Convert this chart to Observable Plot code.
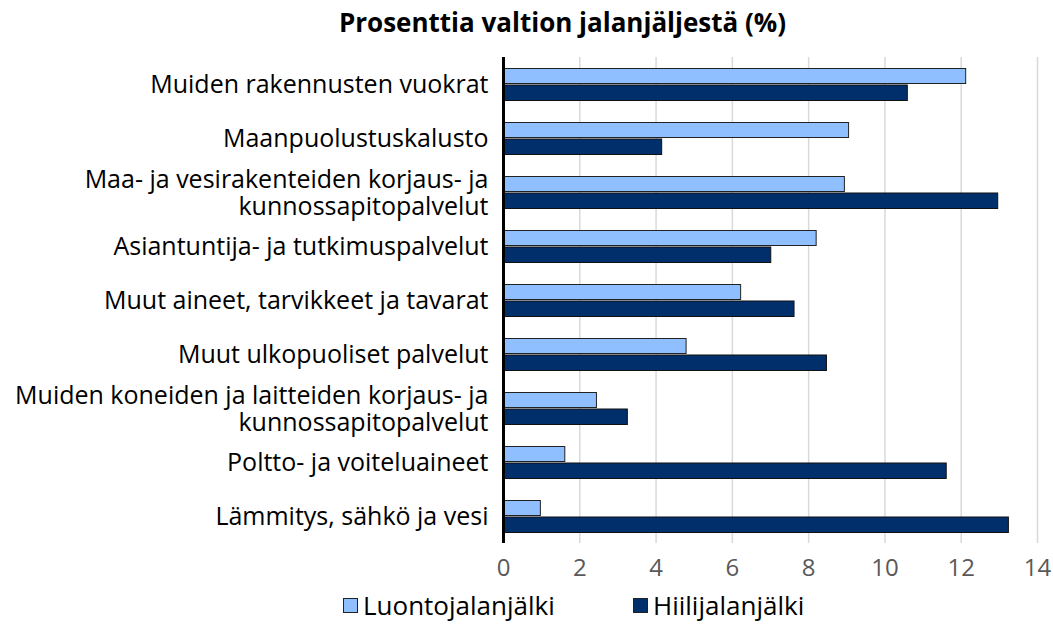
<!DOCTYPE html>
<html>
<head>
<meta charset="utf-8">
<script src="https://cdn.jsdelivr.net/npm/d3@7"></script>
<script src="https://cdn.jsdelivr.net/npm/@observablehq/plot@0.6"></script>
<style>
  html, body { margin: 0; padding: 0; background: #fff; }
  body { width: 1053px; height: 625px; overflow: hidden; font-family: "Open Sans", sans-serif; }
  #title { height: 45px; line-height: 45px; font-weight: bold; font-size: 26px; text-align: center; padding-left: 72px; box-sizing: border-box; width: 1053px; color: #000; }
  #legend { position: relative; height: 40px; width: 1053px; font-size: 26px; color: #000; }
  .item { position: absolute; top: 0; height: 40px; display: flex; align-items: center; gap: 5px; }
  .sw { width: 13px; height: 13px; border: 1px solid #222; display: inline-block; }
  svg { display: block; }
</style>
</head>
<body>
<div id="title">Prosenttia valtion jalanjäljestä (%)</div>
<div id="chart"></div>
<div id="legend"></div>
<script>
const categories = [
  "Muiden rakennusten vuokrat",
  "Maanpuolustuskalusto",
  "Maa- ja vesirakenteiden korjaus- ja\nkunnossapitopalvelut",
  "Asiantuntija- ja tutkimuspalvelut",
  "Muut aineet, tarvikkeet ja tavarat",
  "Muut ulkopuoliset palvelut",
  "Muiden koneiden ja laitteiden korjaus- ja\nkunnossapitopalvelut",
  "Poltto- ja voiteluaineet",
  "Lämmitys, sähkö ja vesi"
];
const seriesNames = ["Luontojalanjälki", "Hiilijalanjälki"];
const luonto = [12.13, 9.06, 8.95, 8.21, 6.23, 4.8, 2.45, 1.62, 0.98];
const hiili = [10.6, 4.16, 12.97, 7.02, 7.63, 8.48, 3.26, 11.62, 13.25];
const xTicks = [0, 2, 4, 6, 8, 10, 12, 14];
const colors = ["#8FBFFF", "#002F6C"];

const luontoData = categories.map((c, i) => ({category: c, value: luonto[i]}));
const hiiliData = categories.map((c, i) => ({category: c, value: hiili[i]}));

const chart = Plot.plot({
  width: 1053,
  height: 540,
  marginLeft: 503,
  marginRight: 16,
  marginTop: 12,
  marginBottom: 42,
  style: {fontFamily: "Open Sans, sans-serif", background: "#fff"},
  x: {domain: [0, 14], ticks: xTicks},
  y: {domain: categories, padding: 0},
  marks: [
    Plot.gridX(xTicks, {stroke: "#d9d9d9", strokeOpacity: 1, strokeWidth: 1.5}),
    Plot.barX(luontoData, {x: "value", y: "category", fill: colors[0], stroke: "#222", strokeWidth: 1, insetTop: 11.5, insetBottom: 27.5}),
    Plot.barX(hiiliData, {x: "value", y: "category", fill: colors[1], stroke: "#111", strokeWidth: 1, insetTop: 28, insetBottom: 10.5}),
    Plot.ruleX([0], {stroke: "#000", strokeWidth: 3}),
    Plot.axisX({ticks: xTicks, tickSize: 0, tickPadding: 15, fontSize: 24, fill: "#595959", label: null}),
    Plot.axisY({tickSize: 0, tickPadding: 15, fontSize: 25, fill: "#000", label: null, lineHeight: 1.08})
  ]
});
document.getElementById("chart").appendChild(chart);

const legend = document.getElementById("legend");
const legendLeft = [343, 633];
seriesNames.forEach((name, i) => {
  const item = document.createElement("div");
  item.className = "item";
  item.style.left = legendLeft[i] + "px";
  const sw = document.createElement("span");
  sw.className = "sw";
  sw.style.background = colors[i];
  const t = document.createElement("span");
  t.textContent = name;
  item.appendChild(sw);
  item.appendChild(t);
  legend.appendChild(item);
});
</script>
</body>
</html>
